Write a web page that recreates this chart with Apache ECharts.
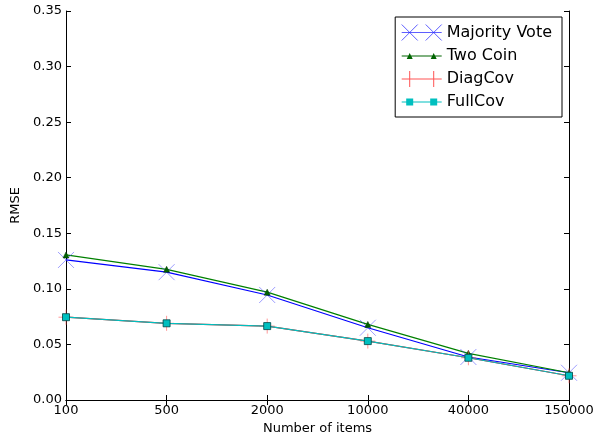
<!DOCTYPE html>
<html>
<head>
<meta charset="utf-8">
<script src="https://cdn.jsdelivr.net/npm/echarts@6/dist/echarts.min.js"></script>
<style>html,body{margin:0;padding:0;background:#fff}#c{width:605px;height:441px}</style>
</head>
<body>
<div id="c"></div>
<script>
const categories = ['100', '500', '2000', '10000', '40000', '150000'];
const majorityVote = [0.126, 0.115, 0.0945, 0.065, 0.0387, 0.0245];
const twoCoin = [0.1305, 0.1176, 0.097, 0.068, 0.042, 0.0245];
const diagCov = [0.0745, 0.069, 0.0665, 0.053, 0.038, 0.0218];
const fullCov = [0.0745, 0.069, 0.0665, 0.053, 0.038, 0.0218];
const seriesNames = ['Majority Vote', 'Two Coin', 'DiagCov', 'FullCov'];

const font = 'DejaVu Sans';
const chart = echarts.init(document.getElementById('c'), null, {renderer: 'canvas'});
const xPath = 'path://M0,0L10,10M10,0L0,10';
const plusPath = 'path://M5,0L5,10M0,5L10,5';

// legend icons (40 x 16 box): line with a marker at each end
const legXIcon = 'path://M0,8L40,8M0,0L16,16M16,0L0,16M24,0L40,16M40,0L24,16';
const legTriIcon = 'path://M0,7.4L40,7.4L40,8.6L0,8.6Z M5,11L8,5L11,11Z M29,11L32,5L35,11Z';
const legPlusIcon = 'path://M0,7.5L40,7.5L40,8.5L0,8.5Z M7.5,0L8.5,0L8.5,16L7.5,16Z M31.5,0L32.5,0L32.5,16L31.5,16Z';
const legSqIcon = 'path://M0,7.4L40,7.4L40,8.6L0,8.6Z M4.5,4.5L11.5,4.5L11.5,11.5L4.5,11.5Z M28.5,4.5L35.5,4.5L35.5,11.5L28.5,11.5Z';

chart.setOption({
  animation: false,
  backgroundColor: '#fff',
  grid: {left: 66, top: 11, right: 36, bottom: 41, containLabel: false, outerBoundsMode: 'none'},
  legend: {
    right: 43, top: 17, orient: 'vertical',
    backgroundColor: '#fff', borderColor: '#000', borderWidth: 1, borderRadius: 0,
    padding: [7, 10, 7, 6], itemGap: 7, itemWidth: 40, itemHeight: 16,
    symbolKeepAspect: true,
    textStyle: {fontFamily: font, fontSize: 16, color: '#000', lineHeight: 16},
    data: [
      {name: seriesNames[0], icon: legXIcon,
        itemStyle: {color: 'rgba(0,0,0,0)', borderColor: 'rgba(40,40,255,0.75)', borderWidth: 1}},
      {name: seriesNames[1], icon: legTriIcon,
        itemStyle: {color: '#006400', borderColor: 'rgba(0,0,0,0)', borderWidth: 0}},
      {name: seriesNames[2], icon: legPlusIcon,
        itemStyle: {color: 'rgba(255,40,40,0.8)', borderColor: 'rgba(0,0,0,0)', borderWidth: 0}},
      {name: seriesNames[3], icon: legSqIcon,
        itemStyle: {color: '#00bfbf', borderColor: 'rgba(0,0,0,0)', borderWidth: 0}}
    ]
  },
  xAxis: [{
    type: 'category', data: categories, boundaryGap: false,
    name: 'Number of items', nameLocation: 'middle', nameGap: 21,
    nameTextStyle: {fontFamily: font, fontSize: 13, color: '#000'},
    axisLine: {lineStyle: {color: '#000', width: 1}},
    axisTick: {inside: true, length: 5, lineStyle: {color: '#000'}},
    axisLabel: {fontFamily: font, fontSize: 13, color: '#000', margin: 4},
    splitLine: {show: false}
  }, {
    type: 'category', data: categories, boundaryGap: false, position: 'top',
    axisLine: {lineStyle: {color: '#000', width: 1}},
    axisTick: {inside: true, length: 5, lineStyle: {color: '#000'}},
    axisLabel: {show: false}, splitLine: {show: false}
  }],
  yAxis: [{
    type: 'value', min: 0, max: 0.35, interval: 0.05,
    name: 'RMSE', nameLocation: 'middle', nameGap: 38,
    nameTextStyle: {fontFamily: font, fontSize: 13, color: '#000'},
    axisLine: {show: true, lineStyle: {color: '#000', width: 1}},
    axisTick: {show: true, inside: true, length: 5, lineStyle: {color: '#000'}},
    axisLabel: {fontFamily: font, fontSize: 13, color: '#000', margin: 4,
      formatter: v => v.toFixed(2)},
    splitLine: {show: false}
  }, {
    type: 'value', min: 0, max: 0.35, interval: 0.05, position: 'right',
    axisLine: {show: true, lineStyle: {color: '#000', width: 1}},
    axisTick: {show: true, inside: true, length: 5, lineStyle: {color: '#000'}},
    axisLabel: {show: false}, splitLine: {show: false}
  }],
  series: [
    {
      name: seriesNames[0], type: 'line', data: majorityVote,
      symbol: xPath, symbolSize: 16, showAllSymbol: true,
      lineStyle: {color: '#0000ff', width: 1.2},
      itemStyle: {color: 'rgba(0,0,0,0)', borderColor: 'rgba(60,60,255,0.5)', borderWidth: 1},
      z: 3
    },
    {
      name: seriesNames[1], type: 'line', data: twoCoin,
      symbol: 'triangle', symbolSize: 6,
      lineStyle: {color: '#008000', width: 1.2},
      itemStyle: {color: '#006400', borderColor: '#003300', borderWidth: 0.5},
      z: 3
    },
    {
      name: seriesNames[2], type: 'line', data: diagCov,
      symbol: plusPath, symbolSize: 15,
      lineStyle: {color: '#ff0000', width: 1.2},
      itemStyle: {color: 'rgba(0,0,0,0)', borderColor: 'rgba(255,80,80,0.6)', borderWidth: 1},
      z: 3
    },
    {
      name: seriesNames[3], type: 'line', data: fullCov,
      symbol: 'rect', symbolSize: 7,
      lineStyle: {color: '#00bfbf', width: 1.2},
      itemStyle: {color: '#00bfbf', borderColor: '#004444', borderWidth: 0.8},
      z: 4
    }
  ]
});
</script>
</body>
</html>
